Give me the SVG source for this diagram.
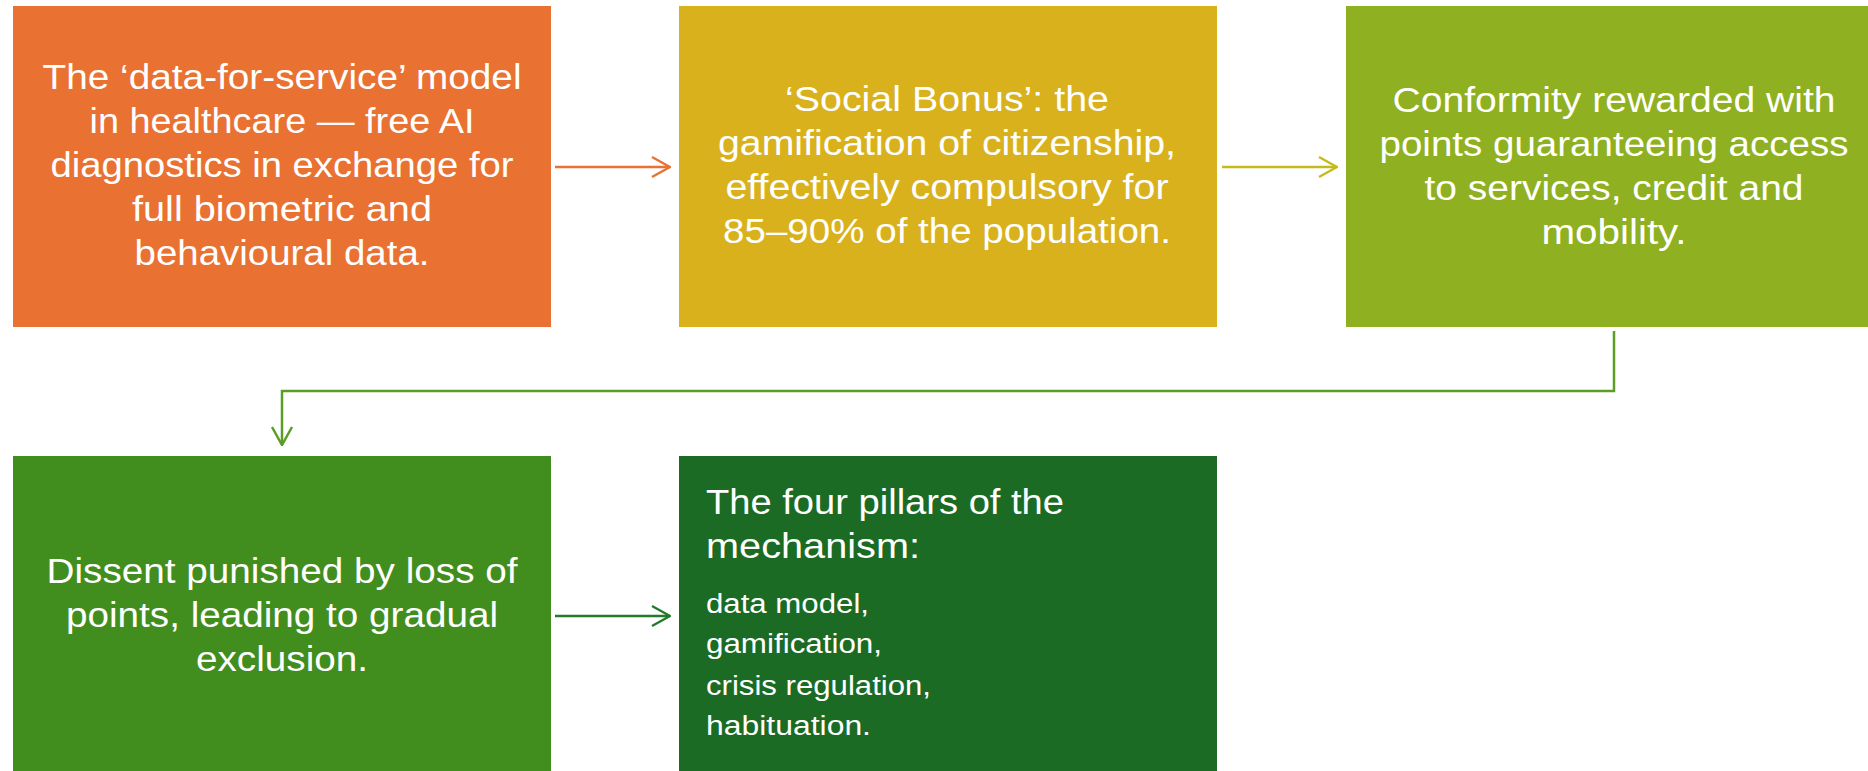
<svg xmlns="http://www.w3.org/2000/svg" width="1868" height="771" viewBox="0 0 1868 771">
<style>
text{font-family:"Liberation Sans",Arial,sans-serif;fill:#ffffff;}
.c{text-anchor:middle;font-size:35px;}
.t{font-size:35px;}
.s{font-size:27px;}
.cn{fill:none;stroke-width:2.5;}
</style>
<defs>
<marker id="a1" viewBox="0 0 20 24" refX="19" refY="12" markerWidth="20" markerHeight="24" markerUnits="userSpaceOnUse" orient="auto"><path d="M1,2 L19,12 L1,22" fill="none" stroke="#E97132" stroke-width="2.5"/></marker>
<marker id="a2" viewBox="0 0 20 24" refX="19" refY="12" markerWidth="20" markerHeight="24" markerUnits="userSpaceOnUse" orient="auto"><path d="M1,2 L19,12 L1,22" fill="none" stroke="#C5BA1C" stroke-width="2.5"/></marker>
<marker id="a3" viewBox="0 0 20 24" refX="19" refY="12" markerWidth="20" markerHeight="24" markerUnits="userSpaceOnUse" orient="auto"><path d="M1,2 L19,12 L1,22" fill="none" stroke="#5A9E25" stroke-width="2.5"/></marker>
<marker id="a4" viewBox="0 0 20 24" refX="19" refY="12" markerWidth="20" markerHeight="24" markerUnits="userSpaceOnUse" orient="auto"><path d="M1,2 L19,12 L1,22" fill="none" stroke="#237A2A" stroke-width="2.5"/></marker>
</defs>
<rect width="1868" height="771" fill="#ffffff"/>
<g id="node1">
<rect x="13" y="6" width="538" height="321" fill="#E97132"/>
<text class="c" x="282" y="89" textLength="479" lengthAdjust="spacingAndGlyphs">The ‘data-for-service’ model</text>
<text class="c" x="282" y="133" textLength="385" lengthAdjust="spacingAndGlyphs">in healthcare — free AI</text>
<text class="c" x="282" y="177" textLength="463" lengthAdjust="spacingAndGlyphs">diagnostics in exchange for</text>
<text class="c" x="282" y="221" textLength="300" lengthAdjust="spacingAndGlyphs">full biometric and</text>
<text class="c" x="282" y="265" textLength="295" lengthAdjust="spacingAndGlyphs">behavioural data.</text>
</g>
<g id="node2">
<rect x="679" y="6" width="538" height="321" fill="#D9B11D"/>
<text class="c" x="947" y="111" textLength="324" lengthAdjust="spacingAndGlyphs">‘Social Bonus’: the</text>
<text class="c" x="947" y="155" textLength="458" lengthAdjust="spacingAndGlyphs">gamification of citizenship,</text>
<text class="c" x="947" y="199" textLength="443" lengthAdjust="spacingAndGlyphs">effectively compulsory for</text>
<text class="c" x="947" y="243" textLength="448" lengthAdjust="spacingAndGlyphs">85–90% of the population.</text>
</g>
<g id="node3">
<rect x="1346" y="6" width="538" height="321" fill="#8FB020"/>
<text class="c" x="1614" y="112" textLength="443" lengthAdjust="spacingAndGlyphs">Conformity rewarded with</text>
<text class="c" x="1614" y="156" textLength="469" lengthAdjust="spacingAndGlyphs">points guaranteeing access</text>
<text class="c" x="1614" y="200" textLength="379" lengthAdjust="spacingAndGlyphs">to services, credit and</text>
<text class="c" x="1614" y="244" textLength="145" lengthAdjust="spacingAndGlyphs">mobility.</text>
</g>
<g id="node4">
<rect x="13" y="456" width="538" height="321" fill="#418E1E"/>
<text class="c" x="282" y="583" textLength="471" lengthAdjust="spacingAndGlyphs">Dissent punished by loss of</text>
<text class="c" x="282" y="627" textLength="432" lengthAdjust="spacingAndGlyphs">points, leading to gradual</text>
<text class="c" x="282" y="671" textLength="172" lengthAdjust="spacingAndGlyphs">exclusion.</text>
</g>
<g id="node5">
<rect x="679" y="456" width="538" height="321" fill="#1B6B24"/>
<text class="t" x="706" y="514" textLength="358" lengthAdjust="spacingAndGlyphs">The four pillars of the</text>
<text class="t" x="706" y="558" textLength="214" lengthAdjust="spacingAndGlyphs">mechanism:</text>
<text class="s" x="706" y="613" textLength="163" lengthAdjust="spacingAndGlyphs">data model,</text>
<text class="s" x="706" y="653" textLength="176" lengthAdjust="spacingAndGlyphs">gamification,</text>
<text class="s" x="706" y="695" textLength="225" lengthAdjust="spacingAndGlyphs">crisis regulation,</text>
<text class="s" x="706" y="735" textLength="165" lengthAdjust="spacingAndGlyphs">habituation.</text>
</g>
<g id="connectors">
<path class="cn" d="M555,167 H670" stroke="#E97132" marker-end="url(#a1)"/>
<path class="cn" d="M1222,167 H1337" stroke="#C5BA1C" marker-end="url(#a2)"/>
<path class="cn" d="M1614,331 V391 H282 V445" stroke="#5A9E25" marker-end="url(#a3)"/>
<path class="cn" d="M555,616 H670" stroke="#237A2A" marker-end="url(#a4)"/>
</g>
</svg>
